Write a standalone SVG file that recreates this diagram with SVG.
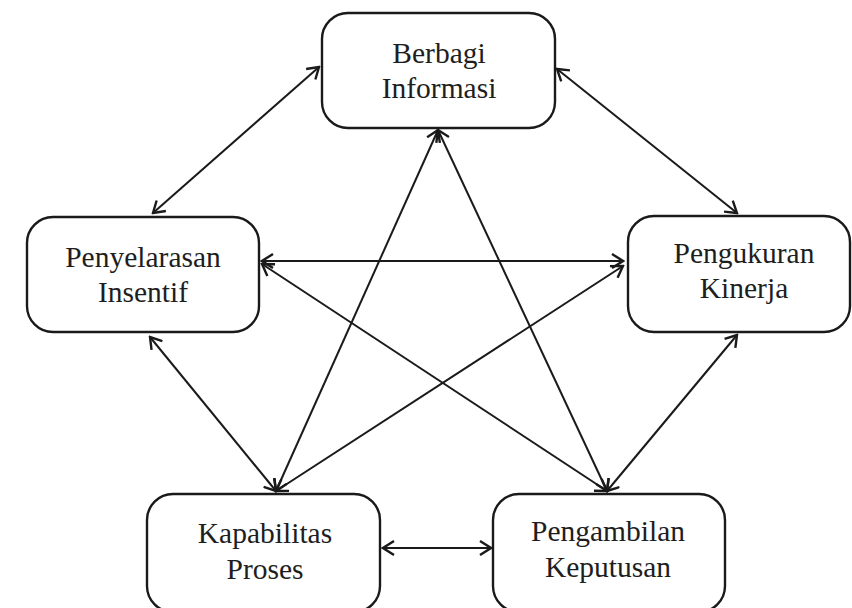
<svg xmlns="http://www.w3.org/2000/svg" width="852" height="608" viewBox="0 0 852 608">
<style>
.box{fill:#fff;stroke:#1a1a1a;stroke-width:2.4}
.lbl{font-family:"Liberation Serif","Times New Roman",serif;font-size:29.5px;fill:#1e1e1e;text-anchor:middle}
.con line{stroke:#1a1a1a;stroke-width:2;marker-start:url(#ah);marker-end:url(#ah)}
</style>
<defs>
<marker id="ah" viewBox="0 0 14 16" refX="12" refY="8" markerWidth="14" markerHeight="16" markerUnits="userSpaceOnUse" orient="auto-start-reverse">
<path d="M1,1 L12,8 L1,15" fill="none" stroke="#1a1a1a" stroke-width="2.4" stroke-linejoin="miter"/>
</marker>
</defs>
<rect width="852" height="608" fill="#fff"/>
<g class="con" id="connectors">
<line x1="319" y1="67" x2="153" y2="213"/>
<line x1="557" y1="69" x2="737" y2="213"/>
<line x1="262" y1="261" x2="623" y2="261"/>
<line x1="262" y1="264" x2="607" y2="491"/>
<line x1="623" y1="266" x2="276" y2="491"/>
<line x1="438" y1="130" x2="276" y2="491"/>
<line x1="438" y1="130" x2="607" y2="491"/>
<line x1="150" y1="337" x2="276" y2="491"/>
<line x1="737" y1="335" x2="607" y2="491"/>
<line x1="383" y1="548" x2="491" y2="548"/>
</g>
<g id="berbagi-informasi">
<rect class="box" x="322" y="13" width="233" height="115" rx="26"/>
<text class="lbl" x="439" y="63">Berbagi</text>
<text class="lbl" x="439" y="98">Informasi</text>
</g>
<g id="penyelarasan-insentif">
<rect class="box" x="27" y="217" width="232" height="115" rx="26"/>
<text class="lbl" x="143" y="267">Penyelarasan</text>
<text class="lbl" x="143" y="302">Insentif</text>
</g>
<g id="pengukuran-kinerja">
<rect class="box" x="628" y="216" width="222" height="116" rx="26"/>
<text class="lbl" x="744" y="263">Pengukuran</text>
<text class="lbl" x="744" y="298">Kinerja</text>
</g>
<g id="kapabilitas-proses">
<rect class="box" x="147" y="494" width="233" height="118" rx="26"/>
<text class="lbl" x="265" y="543">Kapabilitas</text>
<text class="lbl" x="265" y="579">Proses</text>
</g>
<g id="pengambilan-keputusan">
<rect class="box" x="493" y="494" width="232" height="118" rx="26"/>
<text class="lbl" x="608" y="541">Pengambilan</text>
<text class="lbl" x="608" y="577">Keputusan</text>
</g>
</svg>
